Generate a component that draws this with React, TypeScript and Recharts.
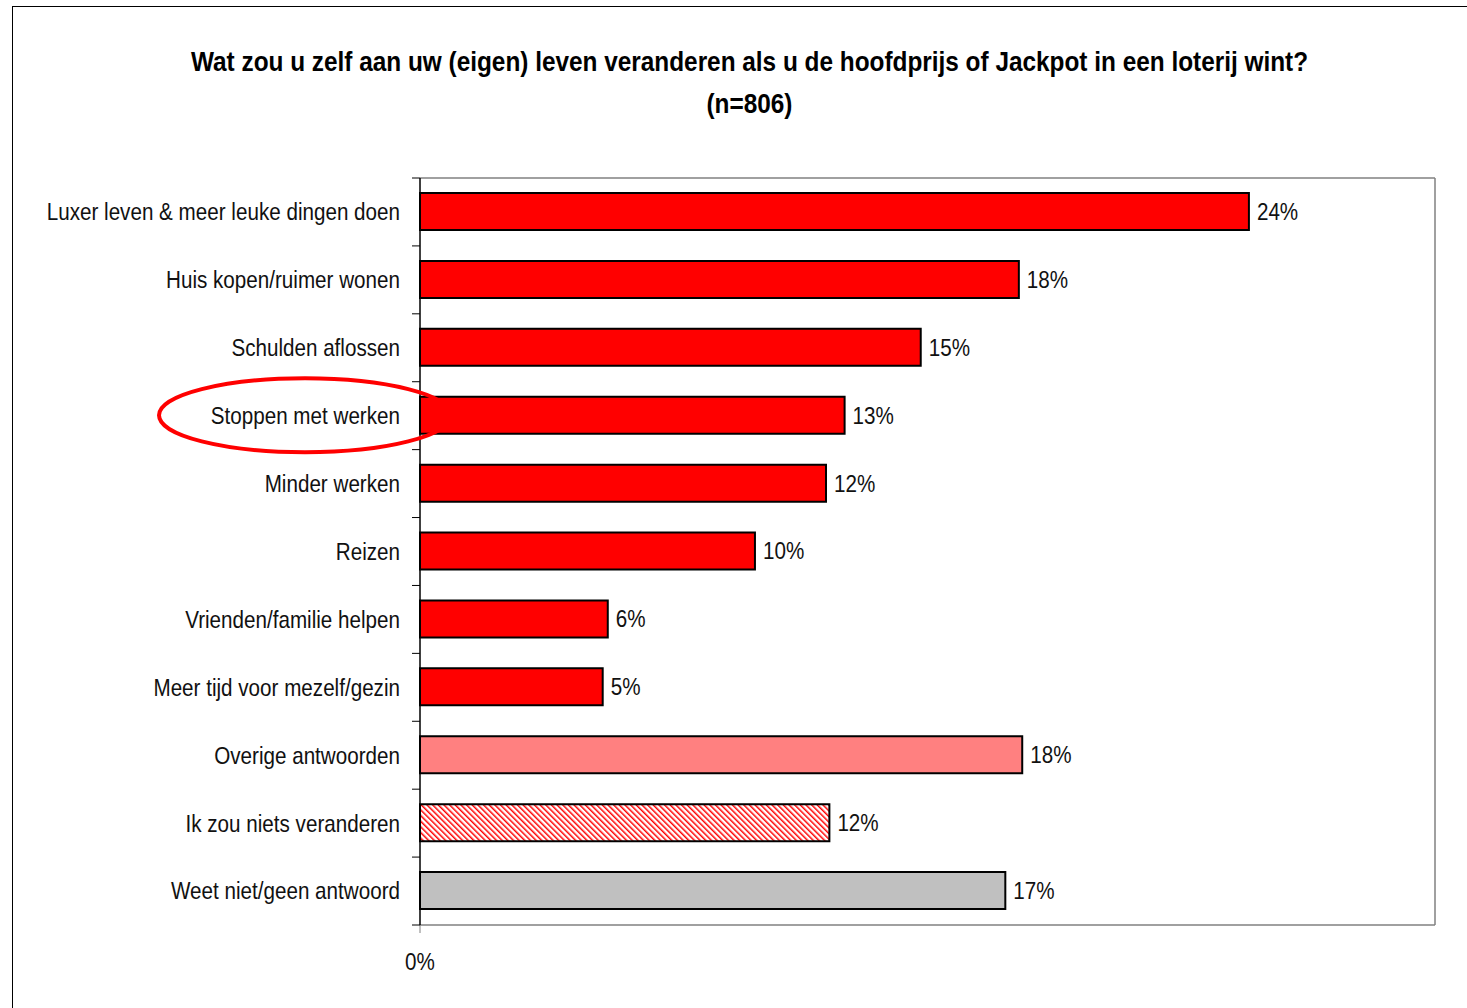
import { BarChart, Bar, XAxis, YAxis, Cell, LabelList, CartesianGrid } from 'recharts'

const categories = [
  'Luxer leven & meer leuke dingen doen',
  'Huis kopen/ruimer wonen',
  'Schulden aflossen',
  'Stoppen met werken',
  'Minder werken',
  'Reizen',
  'Vrienden/familie helpen',
  'Meer tijd voor mezelf/gezin',
  'Overige antwoorden',
  'Ik zou niets veranderen',
  'Weet niet/geen antwoord',
]

// percentages
const values = [24.5, 17.7, 14.8, 12.55, 12.0, 9.9, 5.55, 5.4, 17.8, 12.1, 17.3]
const valueLabels = ['24%', '18%', '15%', '13%', '12%', '10%', '6%', '5%', '18%', '12%', '17%']
const groups = ['change', 'change', 'change', 'change', 'change', 'change', 'change', 'change', 'other', 'nothing', 'unknown']
const xTicks = [0]

const HIGHLIGHT = 'Stoppen met werken'

const GROUP_FILL: Record<string, string> = {
  change: '#ff0000',
  other: '#ff8080',
  nothing: 'url(#hatch)',
  unknown: '#c0c0c0',
}

// no Arial Narrow available, so squeeze Liberation Sans horizontally
const FONT = '"Liberation Sans", Arial, sans-serif'
const NARROW = 0.86
const TICK_SIZE = 8
const TICK_MARGIN = 12

const data = categories.map((name, i) => ({
  name,
  value: values[i],
  label: valueLabels[i],
  group: groups[i],
}))

function CategoryTick(props: any) {
  const { x, y, payload, index } = props
  const half = payload.offset ?? 34
  const axisX = x + TICK_MARGIN + TICK_SIZE
  return (
    <g>
      <line x1={axisX - TICK_SIZE} x2={axisX} y1={y - half} y2={y - half} stroke="#000" strokeWidth={1} />
      {index === categories.length - 1 && (
        <line x1={axisX - TICK_SIZE} x2={axisX} y1={y + half} y2={y + half} stroke="#000" strokeWidth={1} />
      )}
      <g transform={`translate(${x},${y}) scale(${NARROW},1)`}>
        <text x={0} y={0} dy="0.35em" textAnchor="end" fontFamily={FONT} fontSize={24} fill="#111">
          {payload.value}
        </text>
      </g>
    </g>
  )
}

function XTick(props: any) {
  const { x, y, payload } = props
  return (
    <g transform={`translate(${x},${y}) scale(${NARROW},1)`}>
      <text x={0} y={0} dy="0.71em" textAnchor="middle" fontFamily={FONT} fontSize={24} fill="#111">
        {`${payload.value}%`}
      </text>
    </g>
  )
}

function ValueLabel(props: any) {
  const { x, y, width, height, value } = props
  return (
    <g transform={`translate(${x + width + 8},${y + height / 2}) scale(${NARROW},1)`}>
      <text x={0} y={0} dy="0.35em" fontFamily={FONT} fontSize={24} fill="#111">
        {value}
      </text>
    </g>
  )
}

// red ellipse annotation drawn on top of the bar for the highlighted row
function HighlightMark(props: any) {
  const { x, y, height, index } = props
  if (categories[index] !== HIGHLIGHT) return null
  const cy = y + height / 2
  return <ellipse cx={x - 115} cy={cy} rx={146} ry={37} fill="none" stroke="#ff0000" strokeWidth={4} />
}

export default function App() {
  return (
    <div style={{ position: 'absolute', left: 0, top: 0, width: 1467, height: 1008, background: '#fff', overflow: 'hidden' }}>
      <div
        style={{
          position: 'absolute',
          left: 12,
          top: 6,
          width: 1455,
          height: 1002,
          borderLeft: '1px solid #000',
          borderTop: '1px solid #000',
          boxSizing: 'border-box',
        }}
      />
      <div
        style={{
          position: 'absolute',
          left: 32,
          top: 41,
          width: 1435,
          textAlign: 'center',
          fontFamily: FONT,
          fontWeight: 'bold',
          fontSize: 28,
          lineHeight: '42px',
          color: '#000',
        }}
      >
        <div style={{ transform: 'scaleX(0.87)', whiteSpace: 'nowrap' }}>
          Wat zou u zelf aan uw (eigen) leven veranderen als u de hoofdprijs of Jackpot in een loterij wint?
        </div>
        <div style={{ transform: 'scaleX(0.87)' }}>(n=806)</div>
      </div>
      <div style={{ position: 'absolute', left: 0, top: 0 }}>
        <BarChart
          width={1467}
          height={1008}
          data={data}
          layout="vertical"
          barSize={37}
          margin={{ top: 178, right: 32, bottom: 23, left: 0 }}
        >
          <defs>
            <pattern id="hatch" width={4} height={4} patternUnits="userSpaceOnUse" patternTransform="rotate(-45)">
              <rect width={4} height={4} fill="#fff" />
              <line x1={0} y1={0} x2={0} y2={4} stroke="#ff0000" strokeWidth={3} />
            </pattern>
          </defs>
          {/* plot frame: top and right edges */}
          <CartesianGrid
            stroke="#808080"
            strokeWidth={1.5}
            horizontalCoordinatesGenerator={({ offset }: any) => [offset.top]}
            verticalCoordinatesGenerator={({ offset }: any) => [offset.left + offset.width]}
          />
          <XAxis
            type="number"
            domain={[0, 30]}
            ticks={xTicks}
            axisLine={{ stroke: '#808080', strokeWidth: 1.5 }}
            tickLine={{ stroke: '#808080' }}
            tickSize={TICK_SIZE}
            tickMargin={20}
            height={60}
            tick={<XTick />}
          />
          <YAxis
            type="category"
            dataKey="name"
            width={420}
            tickLine={false}
            tickSize={TICK_SIZE}
            tickMargin={TICK_MARGIN}
            axisLine={{ stroke: '#000', strokeWidth: 1.5 }}
            tick={<CategoryTick />}
            interval={0}
          />
          <Bar dataKey="value" stroke="#000" strokeWidth={2} isAnimationActive={false}>
            {data.map((d, i) => (
              <Cell key={`cell-${i}`} fill={GROUP_FILL[d.group]} />
            ))}
            <LabelList dataKey="label" content={<ValueLabel />} />
            <LabelList dataKey="label" content={<HighlightMark />} />
          </Bar>
        </BarChart>
      </div>
    </div>
  )
}
